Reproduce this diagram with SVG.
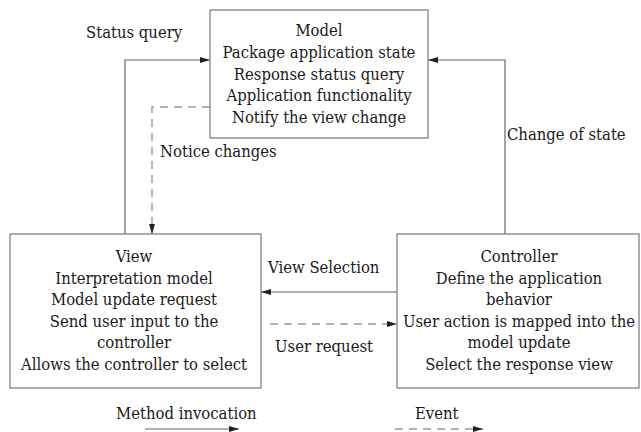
<svg xmlns="http://www.w3.org/2000/svg" width="641" height="432" viewBox="0 0 641 432">
<style>
text{font-family:'DejaVu Serif Condensed','DejaVu Serif',serif;font-stretch:condensed;font-size:16.5px;fill:#1a1a1a}
.c{text-anchor:middle}
.box{fill:#fff;stroke:#777;stroke-width:1.2}
.s{fill:none;stroke:#666;stroke-width:1.2}
.d{fill:none;stroke:#999;stroke-width:1.4;stroke-dasharray:8 6}
</style>
<defs>
<marker id="ah" viewBox="0 0 10 6" refX="10" refY="3" markerWidth="10" markerHeight="6" markerUnits="userSpaceOnUse" orient="auto">
<path d="M0,0 L10,3 L0,6 Z" fill="#222"/>
</marker>
</defs>
<rect width="641" height="432" fill="#fff"/>
<g id="connectors">
<polyline class="s" points="125,234 125,60 210,60" marker-end="url(#ah)"/>
<polyline class="d" points="210,107 152,107 152,234" marker-end="url(#ah)"/>
<polyline class="s" points="505,234 505,60 428,60" marker-end="url(#ah)"/>
<line class="s" x1="397" y1="292" x2="261" y2="292" marker-end="url(#ah)"/>
<line class="d" x1="270" y1="324" x2="397" y2="324" marker-end="url(#ah)"/>
<text x="86" y="38">Status query</text>
<text x="160" y="157">Notice changes</text>
<text x="507" y="140">Change of state</text>
<text x="268" y="273">View Selection</text>
<text x="275" y="352">User request</text>
</g>
<g id="model">
<rect class="box" x="210" y="10" width="218" height="128"/>
<text class="c" x="319" y="36">Model</text>
<text class="c" x="319" y="58">Package application state</text>
<text class="c" x="319" y="80">Response status query</text>
<text class="c" x="319" y="101">Application functionality</text>
<text class="c" x="319" y="123">Notify the view change</text>
</g>
<g id="view">
<rect class="box" x="10" y="234" width="251" height="154"/>
<text class="c" x="134" y="262">View</text>
<text class="c" x="134" y="284">Interpretation model</text>
<text class="c" x="134" y="305">Model update request</text>
<text class="c" x="134" y="327">Send user input to the</text>
<text class="c" x="134" y="348">controller</text>
<text class="c" x="134" y="370">Allows the controller to select</text>
</g>
<g id="controller">
<rect class="box" x="397" y="234" width="242" height="154"/>
<text class="c" x="519" y="262">Controller</text>
<text class="c" x="519" y="284">Define the application</text>
<text class="c" x="519" y="305">behavior</text>
<text class="c" x="519" y="327">User action is mapped into the</text>
<text class="c" x="519" y="348">model update</text>
<text class="c" x="519" y="370">Select the response view</text>
</g>
<g id="legend">
<text x="116" y="419">Method invocation</text>
<line class="s" x1="145" y1="429" x2="239" y2="429" marker-end="url(#ah)"/>
<text x="415" y="419">Event</text>
<line class="d" x1="395" y1="429" x2="483" y2="429" marker-end="url(#ah)"/>
</g>
</svg>
